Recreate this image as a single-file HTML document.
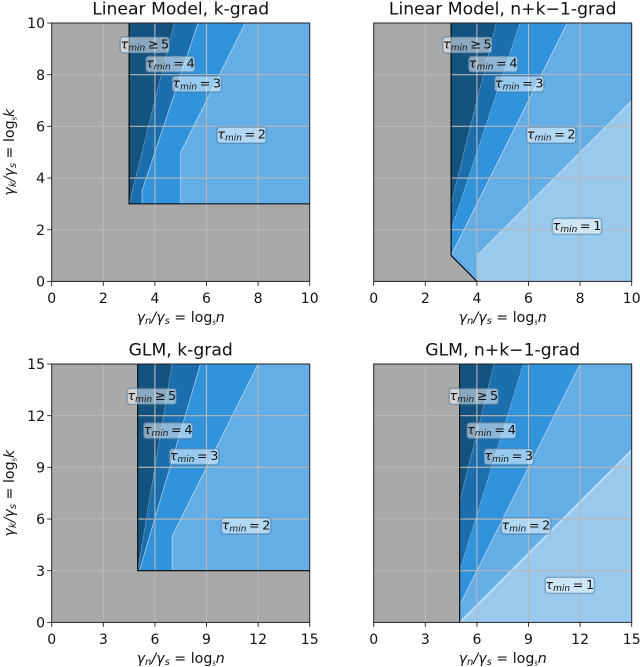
<!DOCTYPE html>
<html lang="en">
<head>
<meta charset="utf-8">
<title>Minimum tau regions</title>
<style>
html,body{margin:0;padding:0;background:#fff;width:640px;height:667px;overflow:hidden}
svg{display:block;filter:blur(0.35px)}
text{font-family:"DejaVu Sans","Liberation Sans",sans-serif;fill:#111}
</style>
</head>
<body>
<svg id="figure" width="640" height="667" viewBox="0 0 640 667" xmlns="http://www.w3.org/2000/svg"></svg>
<script>
const tauLevels = ["1", "2", "3", "4", "5"];

const linearTicks = [0, 2, 4, 6, 8, 10];
const glmTicks = [0, 3, 6, 9, 12, 15];

const panelTitles = ["Linear Model, k-grad", "Linear Model, n+k\u22121-grad", "GLM, k-grad", "GLM, n+k\u22121-grad"];

const linearKRegions = [
  ["2", [[5,3],[10,3],[10,10],[7.5,10],[5,5]]],
  ["3", [[3.5,3],[5,3],[5,5],[7.5,10],[5.67,10],[3.5,3.5]]],
  ["4", [[3,3],[3.5,3],[3.5,3.5],[5.67,10],[4.75,10]]],
  ["5", [[3,10],[4.75,10],[2.95,2.8],[3,3]]]
];
const linearNkRegions = [
  ["1", [[4,0],[10,0],[10,7],[4,1]]],
  ["2", [[3,1],[4,0],[4,1],[10,7],[10,10],[7.5,10]]],
  ["3", [[3,1],[7.5,10],[5.67,10],[3,2]]],
  ["4", [[3,2],[5.67,10],[4.75,10],[3,3]]],
  ["5", [[3,3],[4.75,10],[3,10]]]
];
const glmKRegions = [
  ["2", [[7,3],[15,3],[15,15],[12,15],[7,5]]],
  ["3", [[5.1,3],[7,3],[7,5],[12,15],[8.65,15]]],
  ["4", [[5,3],[5.1,3],[8.65,15],[7,15]]],
  ["5", [[5,15],[7,15],[4.93,2.6],[5,3]]]
];
const glmNkRegions = [
  ["1", [[5,0],[15,0],[15,10]]],
  ["2", [[5,0],[15,10],[15,15],[12,15],[5,1]]],
  ["3", [[5,1],[12,15],[8.7,15],[5,3]]],
  ["4", [[5,3],[8.7,15],[7,15],[5,7]]],
  ["5", [[5,7],[7,15],[5,15]]]
];

const linearKBoundaries = [
  ["dotted", [[3,3],[4.75,10]]],
  ["solid", [[3.5,3],[3.5,3.5],[5.67,10]]],
  ["solid", [[5,3],[5,5],[7.5,10]]]
];
const linearNkBoundaries = [
  ["dotted", [[3,3],[4.75,10]]],
  ["dotted", [[3,2],[5.67,10]]],
  ["solid", [[3,1],[7.5,10]]],
  ["solid", [[4,0],[4,1],[10,7]]]
];
const glmKBoundaries = [
  ["dotted", [[5,3],[7,15]]],
  ["solid", [[5.1,3],[8.65,15]]],
  ["solid", [[7,3],[7,5],[12,15]]]
];
const glmNkBoundaries = [
  ["dotted", [[5,7],[7,15]]],
  ["dotted", [[5,3],[8.7,15]]],
  ["solid", [[5,1],[12,15]]],
  ["double", [[5,0],[15,10]]]
];

const linearKOutline = [[3,10],[3,3],[10,3]];
const linearNkOutline = [[3,10],[3,1],[4,0]];
const glmKOutline = [[5,15],[5,3],[15,3]];
const glmNkOutline = [[5,15],[5,0]];

const linearKLabels = [["5",3.61,9.15],["4",4.6,8.41],["3",5.62,7.64],["2",7.36,5.66]];
const linearNkLabels = [["5",3.63,9.15],["4",4.63,8.41],["3",5.64,7.64],["2",6.88,5.66],["1",7.88,2.13]];
const glmKLabels = [["5",5.82,13.12],["4",6.77,11.13],["3",8.28,9.62],["2",11.3,5.6]];
const glmNkLabels = [["5",5.82,13.12],["4",6.85,11.13],["3",7.85,9.62],["2",8.85,5.6],["1",11.4,2.15]];

const NS = "http://www.w3.org/2000/svg";
const fig = document.getElementById("figure");
const tauColors = {"1":"#99caee","2":"#63aee6","3":"#3193dc","4":"#1c6fae","5":"#14527f"};

function el(tag, parent, attrs) {
  const n = document.createElementNS(NS, tag);
  for (const k in attrs) n.setAttribute(k, attrs[k]);
  parent.appendChild(n);
  return n;
}

function addMath(textEl, parts) {
  parts.forEach(function (p) {
    const t = el("tspan", textEl, {});
    t.textContent = p[0];
    if (p[1] === "i") t.setAttribute("font-style", "italic");
    if (p[2]) t.setAttribute("font-size", p[2]);
    if (p[3]) t.setAttribute("dy", p[3]);
  });
}

function drawPanel(cfg, index) {
  const left = cfg.left, right = cfg.left + 258, top = cfg.top, bottom = cfg.top + 258.4;
  const max = cfg.ticks[cfg.ticks.length - 1];
  const sx = function (v) { return left + v / max * (right - left); };
  const sy = function (v) { return bottom - v / max * (bottom - top); };
  const pts = function (list) { return list.map(function (p) { return sx(p[0]).toFixed(2) + "," + sy(p[1]).toFixed(2); }).join(" "); };

  const g = el("g", fig, {});
  
  

  const bg = el("rect", g, {x:left, y:top, width:right-left, height:bottom-top, fill:"#a9a9a9"});
  
  

  cfg.regions.forEach(function (r) {
    const poly = el("polygon", g, {points:pts(r[1]), fill:tauColors[r[0]]});
    
    
  });

  cfg.boundaries.forEach(function (b) {
    const attrs = {points:pts(b[1]), fill:"none", stroke:"#fff", "stroke-width":0.7, "stroke-opacity":0.65};
    if (b[0] === "dotted") { attrs["stroke-dasharray"] = "1.3 1.3"; attrs["stroke-opacity"] = 0.6; }
    if (b[0] === "double") { attrs["stroke-width"] = 1.5; attrs["stroke-opacity"] = 0.8; }
    const line = el("polyline", g, attrs);
    
    
    if (b[0] === "double") {
      const inner = el("polyline", g, {points:pts(b[1]), fill:"none", stroke:"#7fbce9", "stroke-width":0.5});
      
      
    }
  });

  cfg.ticks.forEach(function (t) {
    if (t > 0 && t < max) {
      const gx = el("line", g, {x1:sx(t), x2:sx(t), y1:top, y2:bottom, stroke:"#b8b8b8", "stroke-width":1.1});
      
      
      const gy = el("line", g, {x1:left, x2:right, y1:sy(t), y2:sy(t), stroke:"#b8b8b8", "stroke-width":1.1});
      
      
    }
  });

  const outline = el("polyline", g, {points:pts(cfg.outline), fill:"none", stroke:"#000", "stroke-width":1.1});
  
  

  cfg.labels.forEach(function (l) {
    const cx = sx(l[1]), cy = sy(l[2]);
    const box = el("rect", g, {x:cx-24.6, y:cy-8, width:49.2, height:16, rx:3, ry:3, fill:"#fff", "fill-opacity":0.5, stroke:"#3f6f97", "stroke-opacity":0.45, "stroke-width":1.6});
    
    
    const txt = el("text", g, {x:cx, y:cy+3.4, "text-anchor":"middle", "font-size":12.8});
    
    
    addMath(txt, [["\u03c4","i"],["min","i",9,2],[l[0] === tauLevels[4] ? "\u2009\u2265\u2009" + l[0] : "\u2009=\u2009" + l[0], "", "", -2]]);
  });

  const frame = el("rect", g, {x:left, y:top, width:right-left, height:bottom-top, fill:"none", stroke:"#222", "stroke-width":1});
  
  

  cfg.ticks.forEach(function (t) {
    const mx = el("line", g, {x1:sx(t), x2:sx(t), y1:bottom, y2:bottom+4.5, stroke:"#222", "stroke-width":0.9});
    
    
    const tx = el("text", g, {x:sx(t), y:bottom+21.4, "text-anchor":"middle", "font-size":14});
    tx.textContent = t;
    
    
    if (index % 2 === 0) {
      const my = el("line", g, {x1:left-4.5, x2:left, y1:sy(t), y2:sy(t), stroke:"#222", "stroke-width":0.9});
      
      
      const ty = el("text", g, {x:left-6.7, y:sy(t)+5.1, "text-anchor":"end", "font-size":14});
      ty.textContent = t;
      
      
    }
  });

  const title = el("text", g, {x:(left+right)/2, y:top-8.5, "text-anchor":"middle", "font-size":17.2});
  title.textContent = cfg.title;
  
  

  const xl = el("text", g, {x:(left+right)/2, y:bottom+40.5, "text-anchor":"middle", "font-size":14.2});
  
  
  addMath(xl, [["\u03b3","i"],["n","i",10,2],["/\u03b3","i","",-2],["s","i",10,2],[" = log","","",-2],["s\u0303","",6.5,2.5],["n","i","",-2.5]]);

  if (index % 2 === 0) {
    const yc = (top + bottom) / 2;
    const yl = el("text", g, {x:0, y:0, transform:"translate(14 " + yc + ") rotate(-90)", "text-anchor":"middle", "font-size":14.2});
    
    
    addMath(yl, [["\u03b3","i"],["k","i",10,2],["/\u03b3","i","",-2],["s","i",10,2],[" = log","","",-2],["s\u0303","",6.5,2.5],["k","i","",-2.5]]);
  }
}

drawPanel({left:51.7, top:23, ticks:linearTicks, title:panelTitles[0], regions:linearKRegions, boundaries:linearKBoundaries, outline:linearKOutline, labels:linearKLabels}, 0);
drawPanel({left:373.7, top:23, ticks:linearTicks, title:panelTitles[1], regions:linearNkRegions, boundaries:linearNkBoundaries, outline:linearNkOutline, labels:linearNkLabels}, 1);
drawPanel({left:51.7, top:364, ticks:glmTicks, title:panelTitles[2], regions:glmKRegions, boundaries:glmKBoundaries, outline:glmKOutline, labels:glmKLabels}, 2);
drawPanel({left:373.7, top:364, ticks:glmTicks, title:panelTitles[3], regions:glmNkRegions, boundaries:glmNkBoundaries, outline:glmNkOutline, labels:glmNkLabels}, 3);
</script>
</body>
</html>
